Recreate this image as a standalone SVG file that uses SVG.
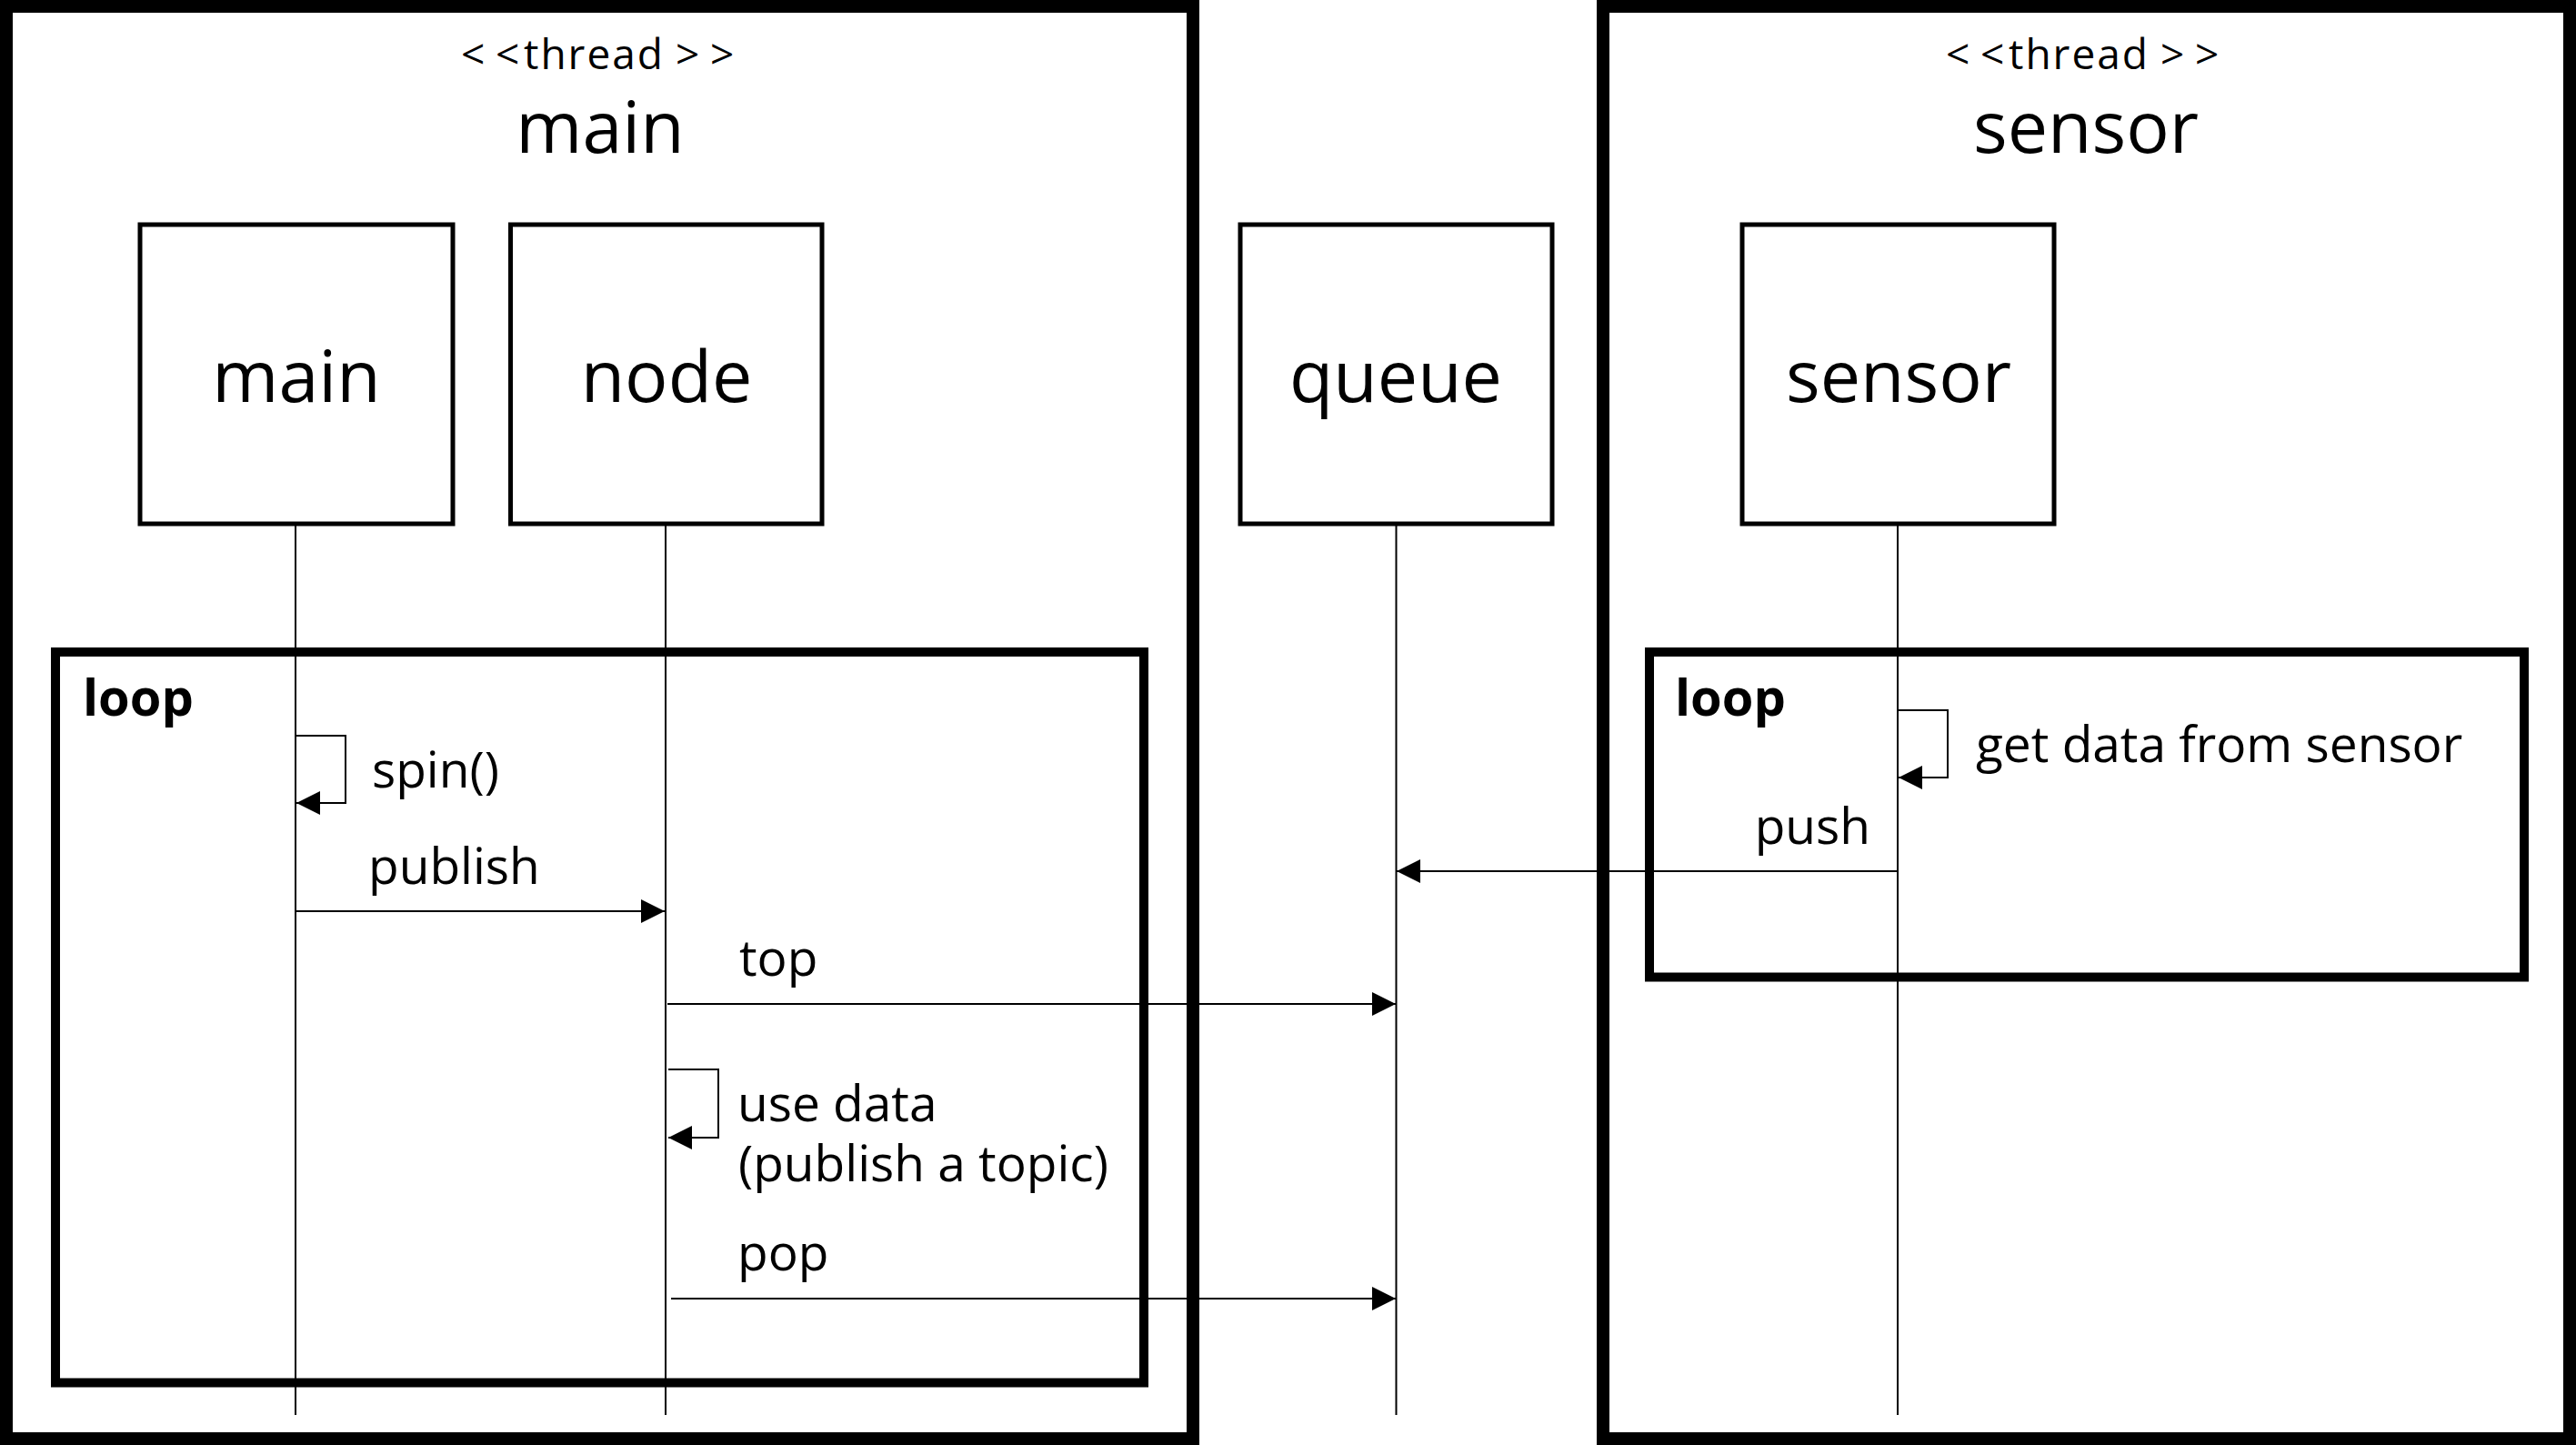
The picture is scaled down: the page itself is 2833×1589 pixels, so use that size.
<svg xmlns="http://www.w3.org/2000/svg" width="2833" height="1589" viewBox="0 0 2833 1589">
  <style>
    text { font-family: "Open Sans", "Noto Sans", "Noto Sans CJK KR", sans-serif; fill: #000; }
    .stereo { font-size: 46px; }
    .title { font-size: 79px; text-anchor: middle; }
    .lbl { font-size: 79px; text-anchor: middle; }
    .msg { font-size: 55px; }
    .loop { font-size: 56px; font-weight: bold; }
    .frame { fill: none; stroke: #000; stroke-width: 14; }
    .fragment { fill: none; stroke: #000; stroke-width: 10; }
    .box { fill: #fff; stroke: #000; stroke-width: 5; }
    .life { stroke: #000; stroke-width: 2; fill: none; }
    .arrow { stroke: #000; stroke-width: 2; fill: none; marker-end: url(#head); }
  </style>
  <defs>
    <marker id="head" markerUnits="userSpaceOnUse" viewBox="0 0 26 26" refX="26" refY="13" markerWidth="26" markerHeight="26" orient="auto">
      <path d="M0,0 L26,13 L0,26 Z" fill="#000"/>
    </marker>
  </defs>
  <rect width="2833" height="1589" fill="#fff"/>

  <g id="thread-main">
    <rect class="frame" x="7" y="7" width="1305" height="1575"/>
    <text class="stereo" y="76"><tspan x="507">&lt;</tspan><tspan x="545">&lt;</tspan><tspan x="576" letter-spacing="2">thread</tspan><tspan x="743">&gt;</tspan><tspan x="781">&gt;</tspan></text>
    <text class="title" x="660" y="168">main</text>
  </g>

  <g id="thread-sensor">
    <rect class="frame" x="1763" y="7" width="1063" height="1575"/>
    <text class="stereo" y="76"><tspan x="2140">&lt;</tspan><tspan x="2178">&lt;</tspan><tspan x="2209" letter-spacing="2">thread</tspan><tspan x="2376">&gt;</tspan><tspan x="2414">&gt;</tspan></text>
    <text class="title" x="2294" y="168">sensor</text>
  </g>

  <g id="lifelines">
    <line class="life" x1="325" y1="578" x2="325" y2="1556"/>
    <line class="life" x1="732" y1="578" x2="732" y2="1556"/>
    <line class="life" x1="1535.5" y1="578" x2="1535.5" y2="1556"/>
    <line class="life" x1="2087" y1="578" x2="2087" y2="1556"/>
  </g>

  <g id="node-main">
    <rect class="box" x="154" y="247" width="344" height="329"/>
    <text class="lbl" x="326" y="442">main</text>
  </g>
  <g id="node-node">
    <rect class="box" x="561.5" y="247" width="342.5" height="329"/>
    <text class="lbl" x="733" y="442">node</text>
  </g>
  <g id="node-queue">
    <rect class="box" x="1364" y="247" width="343" height="329"/>
    <text class="lbl" x="1535" y="442">queue</text>
  </g>
  <g id="node-sensor">
    <rect class="box" x="1916" y="247" width="343" height="329"/>
    <text class="lbl" x="2088" y="442">sensor</text>
  </g>

  <g id="loop-main">
    <rect class="fragment" x="61" y="717" width="1197" height="803.5"/>
    <text class="loop" x="91" y="787">loop</text>
  </g>
  <g id="loop-sensor">
    <rect class="fragment" x="1814" y="717" width="962" height="357.5"/>
    <text class="loop" x="1842" y="787">loop</text>
  </g>

  <g id="connectors">
    <path class="arrow" d="M325,809 H380 V883 H326"/>
    <path class="arrow" d="M325,1002 H731"/>
    <path class="arrow" d="M734,1104 H1535"/>
    <path class="arrow" d="M735,1176 H790 V1251 H735"/>
    <path class="arrow" d="M738,1428 H1535"/>
    <path class="arrow" d="M2087,781 H2142 V855 H2088"/>
    <path class="arrow" d="M2087,958 H1536"/>
  </g>

  <g id="labels">
    <text class="msg" x="409" y="866">spin()</text>
    <text class="msg" x="405" y="972">publish</text>
    <text class="msg" x="813" y="1073">top</text>
    <text class="msg"><tspan x="811" y="1233">use data</tspan><tspan x="812" y="1299">(publish a topic)</tspan></text>
    <text class="msg" x="811" y="1397">pop</text>
    <text class="msg" x="2173" y="838">get data from sensor</text>
    <text class="msg" x="2057" y="928" text-anchor="end">push</text>
  </g>
</svg>
